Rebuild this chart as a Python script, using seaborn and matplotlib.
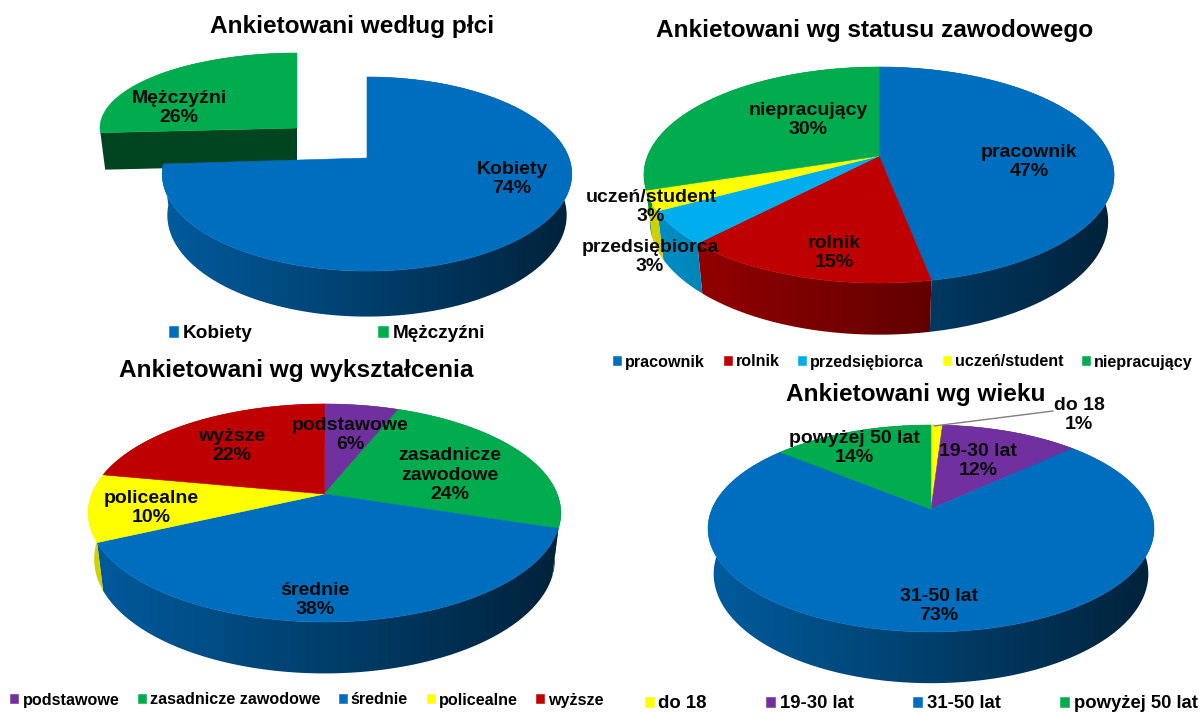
import numpy as np
import seaborn as sns
import matplotlib
matplotlib.use("Agg")
import matplotlib.pyplot as plt
from matplotlib.colors import LinearSegmentedColormap, to_rgb
from matplotlib.patches import Polygon
from matplotlib.path import Path
from matplotlib.transforms import Affine2D, Transform

BLUE = "#006EBE"
GREEN = "#00AC4E"
RED = "#BE0000"
SKY = "#00AEEF"
YELLOW = "#FFFF00"
PURPLE = "#7030A0"

# plec
gender_names = ["Kobiety", "Mężczyźni"]
gender_values = [74, 26]
gender_colors = [BLUE, GREEN]

# status zawodowy (slice of przedsiebiorca is drawn wider than its label says)
status_names = ["pracownik", "rolnik", "przedsiębiorca", "uczeń/student", "niepracujący"]
status_values = [47, 15, 5, 3, 30]
status_shown = [47, 15, 3, 3, 30]
status_colors = [BLUE, RED, SKY, YELLOW, GREEN]

# wyksztalcenie
edu_names = ["podstawowe", "zasadnicze zawodowe", "średnie", "policealne", "wyższe"]
edu_values = [6, 24, 38, 10, 22]
edu_colors = [PURPLE, GREEN, BLUE, YELLOW, RED]

# wiek
age_names = ["do 18", "19-30 lat", "31-50 lat", "powyżej 50 lat"]
age_values = [1, 12, 73, 14]
age_colors = [YELLOW, PURPLE, BLUE, GREEN]

W, H = 1200, 713


class Persp(Transform):
    # unit pie -> figure pixels, tilted disc seen in perspective
    input_dims = 2
    output_dims = 2
    is_separable = False
    has_inverse = False

    def __init__(self, g, z=0):
        super().__init__()
        self.g = g
        self.z = z

    def transform_non_affine(self, xy):
        g = self.g
        xy = np.asarray(xy, dtype=float)
        w = 1 + g["k"] * xy[:, 1] + g["e"] * self.z
        return np.column_stack((g["cx"] + g["rx"] * xy[:, 0] / w,
                                g["cy"] + (-g["ry"] * xy[:, 1] + g["d"] * self.z) / w))

    def transform_path_non_affine(self, path):
        big = Affine2D().scale(2000).transform_path(path)
        poly = big.to_polygons(closed_only=False)[0] / 2000
        return Path(self.transform_non_affine(poly))


def shade(col, f):
    return tuple(c * f for c in to_rgb(col))


def draw_pie(ax, g, values, names, colors, shown, label_pos, title, title_xy,
             legend_xy, legend_gap, legend_size, pulled=None, label_size=14):
    # pulled: slice index -> its own geometry, for a slice taken out of the pie
    pulled = pulled or {}
    wedges, _ = ax.pie(values, colors=colors, startangle=90, counterclock=False)
    xleft, xright = g["cx"] - g["rx"] * 1.05, g["cx"] + g["rx"] * 1.05
    grad = np.linspace(0, 1, 256).reshape(1, -1)
    for i, w in enumerate(wedges):
        geo = pulled.get(i, g)
        top, low = Persp(geo, 0), Persp(geo, 1)
        base = 2 if i in pulled else 6
        w.set_transform(top + ax.transData)
        w.set_edgecolor(colors[i])
        w.set_linewidth(0.4)
        w.set_zorder(base + 2)
        th = np.radians(np.linspace(w.theta1, w.theta2, 120))
        arc = np.column_stack((np.cos(th), np.sin(th)))
        strip = np.vstack((top.transform_non_affine(arc), low.transform_non_affine(arc)[::-1]))
        cmap = LinearSegmentedColormap.from_list("side", [shade(colors[i], 0.84), shade(colors[i], 0.30)])
        im = ax.imshow(grad, cmap=cmap, aspect="auto", zorder=base,
                       extent=(xleft, xright, g["cy"] + 250, g["cy"] - 250))
        im.set_clip_path(Path(np.vstack((strip, strip[:1]))), transform=ax.transData)
        if i in pulled:
            # the cut face shows only when the slice is pulled out
            a = th[-1]
            edge = np.array([[0, 0], [np.cos(a), np.sin(a)]])
            quad = np.vstack((top.transform_non_affine(edge), low.transform_non_affine(edge)[::-1]))
            ax.add_patch(Polygon(quad, closed=True, facecolor=shade(colors[i], 0.40),
                                 edgecolor="none", zorder=base + 1))

    for name, pct, (x, y) in zip(names, shown, label_pos):
        txt = name.replace(" zawodowe", "\nzawodowe") + "\n" + str(pct) + "%"
        ax.text(x, y, txt, ha="center", va="center", fontsize=label_size, fontweight="bold",
                linespacing=1.2, color="#0a0a0a", zorder=20)
    ax.text(title_xy[0], title_xy[1], title, ha="center", va="center", fontsize=17.6,
            fontweight="bold", color="black", zorder=20)
    ax.legend(wedges, names, ncol=len(names), loc="center", bbox_to_anchor=legend_xy,
              bbox_transform=ax.transData, frameon=False, handlelength=0.5, handleheight=0.5,
              handletextpad=0.25, columnspacing=legend_gap, borderpad=0, borderaxespad=0,
              labelcolor="black", prop={"size": legend_size, "weight": "bold"})


def panel(fig, x0, y0, x1, y1):
    ax = fig.add_axes([x0 / W, 1 - y1 / H, (x1 - x0) / W, (y1 - y0) / H])
    ax.patch.set_alpha(0)
    return ax, (x0, x1), (y1, y0)


sns.set_theme(style="white")
plt.rcParams["font.family"] = ["Liberation Sans", "DejaVu Sans"]
fig = plt.figure(figsize=(W / 100, H / 100), dpi=100, facecolor="white")

ax1, xl1, yl1 = panel(fig, 0, 0, 600, 350)
draw_pie(ax1, dict(cx=367, cy=158, rx=202, ry=94.4, k=0.165, d=42, e=0.025),
         gender_values, gender_names, gender_colors, gender_values,
         [(512, 179), (179, 108)], "Ankietowani według płci", (352, 27),
         (327, 334), 6.6, 13.7,
         pulled={1: dict(cx=297, cy=128, rx=197, ry=75, k=0.0, d=38, e=0.025)})

ax2, xl2, yl2 = panel(fig, 575, 0, 1200, 380)
draw_pie(ax2, dict(cx=879, cy=156, rx=231.4, ry=104.7, k=0.176, d=47, e=0.025),
         status_values, status_names, status_colors, status_shown,
         [(1029, 162), (834, 253), (650, 257), (651, 207), (808, 120)],
         "Ankietowani wg statusu zawodowego", (875, 30), (903, 362), 1.15, 11.6)

ax3, xl3, yl3 = panel(fig, 0, 350, 620, 713)
draw_pie(ax3, dict(cx=324.5, cy=494, rx=232.7, ry=105.7, k=0.174, d=47, e=0.025),
         edu_values, edu_names, edu_colors, edu_values,
         [(350, 435), (450, 475), (315, 600), (151, 508), (232, 446)],
         "Ankietowani wg wykształcenia", (296, 370), (307, 700), 1.15, 11.6)

ax4, xl4, yl4 = panel(fig, 620, 370, 1200, 713)
draw_pie(ax4, dict(cx=931, cy=509, rx=219, ry=99.8, k=0.188, d=46, e=0.025),
         age_values, age_names, age_colors, age_values,
         [(1079, 415), (978, 461), (939, 606), (854, 448)],
         "Ankietowani wg wieku", (916, 394), (921, 704), 3.2, 13.3)
ax4.plot([934, 1053], [426, 411], color="#7f7f7f", linewidth=1, zorder=15)

for ax, xl, yl in [(ax1, xl1, yl1), (ax2, xl2, yl2), (ax3, xl3, yl3), (ax4, xl4, yl4)]:
    ax.set_aspect("auto")
    ax.set_xlim(xl)
    ax.set_ylim(yl)
    ax.set_axis_off()

fig.savefig("out.png", dpi=100)
